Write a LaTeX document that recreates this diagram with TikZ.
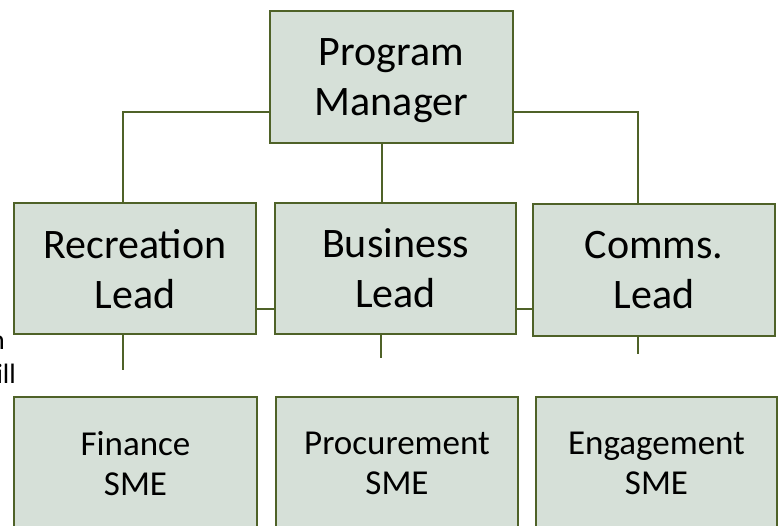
\documentclass[tikz,border=0pt]{standalone}
\usepackage{fontspec}
\setmainfont{Carlito}

\definecolor{boxfill}{RGB}{214,224,216}
\definecolor{boxline}{RGB}{79,98,40}

\begin{document}
\begin{tikzpicture}[x=1pt,y=-1pt,
  role/.style={draw=boxline,line width=2pt,fill=boxfill,inner sep=0pt,align=center,text depth=0pt},
  lead/.style={role,font=\fontsize{42}{50}\selectfont,minimum width=242pt,minimum height=131pt},
  sme/.style={role,font=\fontsize{35}{40}\selectfont,minimum width=243pt,minimum height=133pt},
  link/.style={draw=boxline,line width=2pt},
  frag/.style={font=\fontsize{28}{34}\selectfont,inner sep=0pt,anchor=base east}]
\useasboundingbox (0,0) rectangle (781,525);
\clip (0,0) rectangle (781,525);
% text cut off at the left edge
\node[frag] (fragn) at (5,349) {n};
\node[frag] (fragill) at (16,383) {ill};
% boxes
\node[lead,minimum width=243pt,minimum height=132pt] (pm) at (391.5,77) {Program\\Manager};
\node[lead] (rec) at (135,268.5) {Recreation\\Lead};
\node[lead,minimum width=241pt] (bus) at (395.5,268.5) {Business\\Lead};
\node[lead,minimum height=132pt] (com) at (654,270) {Comms.\\Lead};
\node[sme] (fin) at (135.5,463.5) {Finance\\SME};
\node[sme,minimum width=242pt] (pro) at (397,463.5) {Procurement\\SME};
\node[sme,minimum width=241pt] (eng) at (656.5,463.5) {Engagement\\SME};
% connectors
\draw[link] ([yshift=-35pt]pm.west) -| ([xshift=-12pt]rec.north);
\draw[link] ([yshift=-35pt]pm.east) -| ([xshift=-16pt]com.north);
\draw[link] ([xshift=-9.5pt]pm.south) -- ([xshift=-13.5pt]bus.north);
\draw[link] ([yshift=-40.5pt]rec.east) -- ([yshift=-40.5pt]bus.west);
\draw[link] ([yshift=-40.5pt]bus.east) -- ([yshift=-39pt]com.west);
\draw[link] ([xshift=-12pt]rec.south) -- ++(0,35) coordinate (recend);
\draw[link] ([xshift=-14.5pt]bus.south) -- ++(0,23) coordinate (busend);
\draw[link] ([xshift=-16pt]com.south) -- ++(0,17) coordinate (comend);
\end{tikzpicture}
\end{document}
